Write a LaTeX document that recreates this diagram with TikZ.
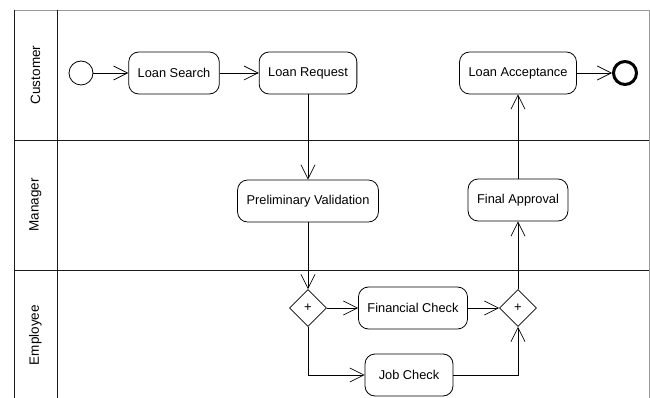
\documentclass[tikz,border=0pt]{standalone}
\usepackage{fontspec}
\setmainfont{Liberation Sans}
\usetikzlibrary{shapes.geometric, arrows.meta, positioning}
\definecolor{laneline}{HTML}{1A1A1A}
\definecolor{edgegray}{HTML}{9A9A9A}

\tikzset{
  activity/.style={draw, rounded corners=10pt, minimum height=42pt, inner xsep=9pt, line width=0.8pt, font=\fontsize{12.8}{14}\selectfont},
  gateway/.style={draw, diamond, minimum size=37pt, inner sep=0pt, line width=0.8pt, font=\fontsize{13}{14}\selectfont},
  flow/.style={-{Straight Barb[length=14pt,width=14pt]}, line width=0.7pt},
  lanelabel/.style={rotate=90, font=\fontsize{13.5}{15}\selectfont}
}

\begin{document}
\begin{tikzpicture}[x=1pt, y=-1pt]
  \useasboundingbox (0,0) rectangle (650,398);

  % Swimlane frame
  \draw[edgegray, line width=0.8pt] (14,10) -- (649,10) -- (649,398);
  \draw[laneline, line width=0.9pt] (14,10) -- (14,398);
  \draw[laneline, line width=0.9pt] (57,10) -- (57,398);
  \foreach \y in {140,270} {
    \draw[laneline, line width=0.9pt] (14,\y) -- (649,\y);
  }

  % Lane names
  \foreach \name/\y in {Customer/75, Manager/205, Employee/335} {
    \node[lanelabel] (lane\name) at (35.5,\y) {\name};
  }

  % Customer lane
  \node[draw, circle, minimum size=24pt, inner sep=0pt, line width=0.8pt] (start) at (81,73) {};
  \node[activity] (search) at (174,73) {Loan Search};
  \node[activity] (request) at (308,73) {Loan Request};
  \node[activity] (accept) at (518,73) {Loan Acceptance};
  \node[draw, circle, minimum size=23pt, inner sep=0pt, line width=3pt] (finish) at (625,73) {};

  % Manager lane
  \node[activity] (prelim) at (308,201) {Preliminary Validation};
  \node[activity] (approval) at (518,200) {Final Approval};

  % Employee lane
  \node[gateway] (fork) at (308,308) {+};
  \node[activity] (financial) at (413,308) {Financial Check};
  \node[gateway] (join) at (518,308) {+};
  \node[activity, minimum width=88pt] (job) at (409,375) {Job Check};

  % Flows
  \draw[flow] (start) -- (search);
  \draw[flow] (search) -- (request);
  \draw[flow] (request) -- (prelim);
  \draw[flow] (prelim) -- (fork);
  \draw[flow] (fork) -- (financial);
  \draw[flow] (fork.south) |- (job.west);
  \draw[flow] (financial) -- (join);
  \draw[flow] (job.east) -| (join.south);
  \draw[flow] (join) -- (approval);
  \draw[flow] (approval) -- (accept);
  \draw[flow] (accept) -- (finish);
\end{tikzpicture}
\end{document}
